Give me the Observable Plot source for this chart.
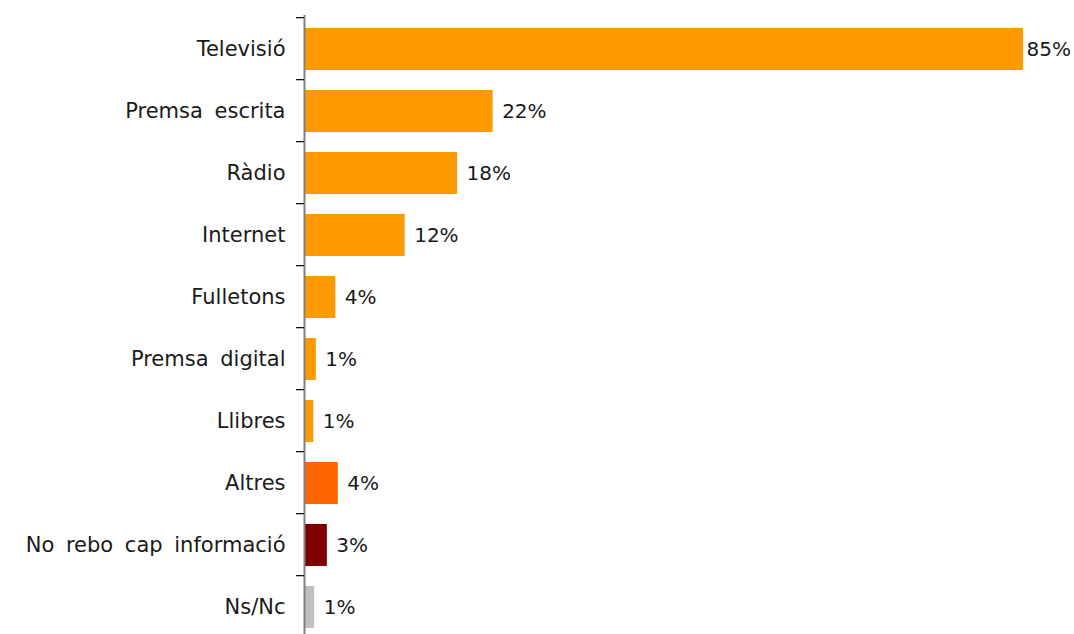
<!DOCTYPE html>
<html>
<head>
<meta charset="utf-8">
<script src="https://cdn.jsdelivr.net/npm/d3@7"></script>
<script src="https://cdn.jsdelivr.net/npm/@observablehq/plot@0.6"></script>
<style>
  html, body { margin: 0; padding: 0; background: #fff; }
  #chart { width: 1074px; height: 634px; overflow: hidden; }
  #chart svg text { word-spacing: 5px; }
</style>
</head>
<body>
<div id="chart"></div>
<script>
const categories = ["Televisió", "Premsa escrita", "Ràdio", "Internet", "Fulletons", "Premsa digital", "Llibres", "Altres", "No rebo cap informació", "Ns/Nc"];
const values = [85, 22.3, 18.1, 11.9, 3.7, 1.4, 1.1, 4.0, 2.7, 1.2];
const valueLabels = ["85%", "22%", "18%", "12%", "4%", "1%", "1%", "4%", "3%", "1%"];
const colors = ["#FF9900", "#FF9900", "#FF9900", "#FF9900", "#FF9900", "#FF9900", "#FF9900", "#FF6600", "#800000", "#C0C0C0"];

const data = categories.map((c, i) => ({category: c, value: values[i], label: valueLabels[i], color: colors[i]}));

const font = "'DejaVu Sans', sans-serif";
const W = 1074, H = 634;
const yTop = 14.7, yBottom = 641.3;
const padInner = 0.33;

const bandTicks = (index, scales, values, dims) => {
  const y = scales.scales.y;
  const step = (yBottom - yTop) / categories.length;
  const g = d3.create("svg:g");
  categories.forEach(c => {
    const center = scales.y(c) + y.bandwidth / 2;
    const b = center - step / 2;
    g.append("line")
      .attr("x1", dims.marginLeft - 8).attr("x2", dims.marginLeft)
      .attr("y1", b).attr("y2", b)
      .attr("stroke", "#000").attr("stroke-width", 1.2);
  });
  return g.node();
};

const chart = Plot.plot({
  width: W,
  height: H,
  marginLeft: 304,
  marginRight: 51,
  marginTop: 15,
  marginBottom: 0,
  style: {fontFamily: font, fontSize: "20px", color: "#1a1a1a", background: "#fff"},
  x: {domain: [0, 85], axis: null},
  y: {domain: categories, range: [yTop, yBottom], paddingInner: padInner, paddingOuter: padInner / 2, label: null},
  marks: [
    Plot.barX(data, {x: "value", y: "category", fill: "color"}),
    Plot.axisY({tickSize: 0, tickPadding: 19, fontSize: 21, fill: "#1a1a1a", label: null}),
    Plot.text(data.filter(d => d.value < 80), {x: "value", y: "category", text: "label", textAnchor: "start", dx: 9, fontSize: 20, fill: "#1a1a1a"}),
    Plot.text(data.filter(d => d.value >= 80), {x: "value", y: "category", text: "label", textAnchor: "start", dx: 3, fontSize: 20, fill: "#1a1a1a"}),
    Plot.ruleX([0], {stroke: "#808080", strokeWidth: 2}),
    bandTicks
  ]
});
document.getElementById("chart").appendChild(chart);
</script>
</body>
</html>
